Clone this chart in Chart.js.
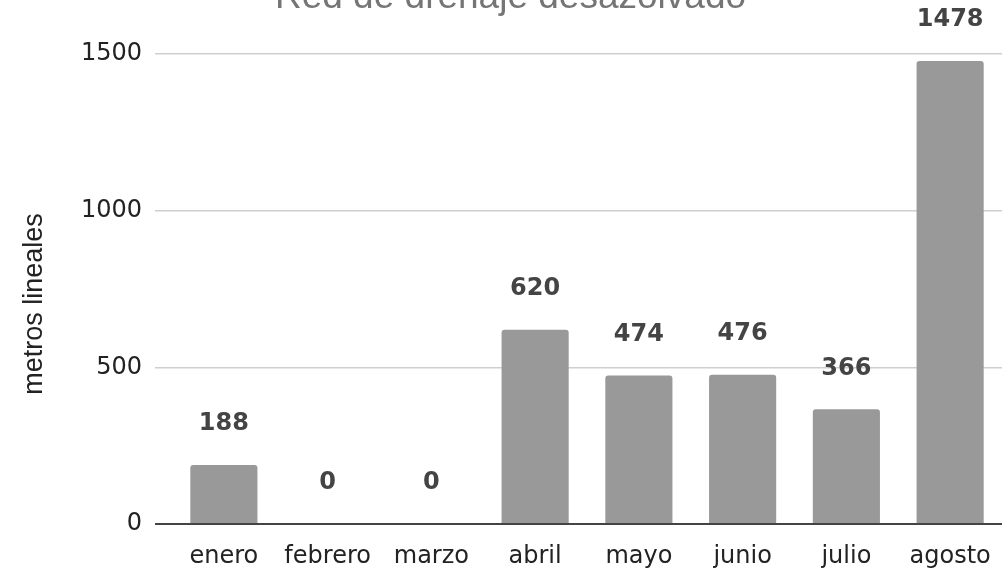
<!DOCTYPE html>
<html>
<head>
<meta charset="utf-8">
<script src="https://cdn.jsdelivr.net/npm/chart.js@4/dist/chart.umd.min.js"></script>
<style>
  html, body { margin: 0; padding: 0; background: #ffffff; }
  #c { display: block; }
</style>
</head>
<body>
<canvas id="c" width="1002" height="569"></canvas>
<script>
const categories = ['enero', 'febrero', 'marzo', 'abril', 'mayo', 'junio', 'julio', 'agosto'];
const metros = [188, 0, 0, 620, 474, 476, 366, 1478];
const yTicks = [0, 500, 1000, 1500];
const chartTitle = 'Red de drenaje desazolvado';
const yTitle = 'metros lineales';

const valueLabels = {
  id: 'valueLabels',
  afterDatasetsDraw(chart) {
    const ctx = chart.ctx;
    const meta = chart.getDatasetMeta(0);
    const base = chart.scales.y.getPixelForValue(0);
    ctx.save();
    ctx.font = 'bold 24px "DejaVu Sans"';
    ctx.fillStyle = '#444444';
    ctx.textAlign = 'center';
    ctx.textBaseline = 'middle';
    meta.data.forEach((bar, i) => {
      const top = Math.min(bar.y, base);
      ctx.fillText(String(metros[i]), bar.x, top - 41);
    });
    ctx.restore();
  }
};

new Chart(document.getElementById('c'), {
  type: 'bar',
  data: {
    labels: categories,
    datasets: [{
      data: metros,
      backgroundColor: '#999999',
      borderRadius: { topLeft: 3, topRight: 3, bottomLeft: 0, bottomRight: 0 },
      borderSkipped: 'bottom',
      barPercentage: 0.647,
      categoryPercentage: 1.0
    }]
  },
  options: {
    responsive: false,
    animation: false,
    events: [],
    layout: { padding: { left: 19, right: 0, top: 0, bottom: 0 } },
    plugins: {
      legend: { display: false },
      tooltip: { enabled: false },
      title: {
        display: true,
        text: chartTitle,
        color: '#757575',
        font: { family: '"Liberation Sans", Arial, sans-serif', size: 37, weight: 'normal' },
        padding: { top: -24, bottom: 33.6 }
      }
    },
    scales: {
      x: {
        type: 'category',
        grid: { display: false, drawTicks: false },
        border: { display: false },
        ticks: {
          color: '#222222',
          font: { family: '"DejaVu Sans"', size: 24 },
          padding: 18,
          autoSkip: false,
          maxRotation: 0
        },
        afterFit(scale) {
          scale.height = 45;
          scale.paddingLeft = 0;
          scale.paddingRight = 0;
        }
      },
      y: {
        min: 0,
        max: 1500,
        afterBuildTicks(scale) { scale.ticks = yTicks.map(v => ({ value: v })); },
        grid: {
          color: (c) => (c.tick && c.tick.value === 0) ? '#444444' : '#cfcfcf',
          lineWidth: (c) => (c.tick && c.tick.value === 0) ? 2 : 1.5,
          drawTicks: true,
          tickLength: 17
        },
        border: { display: false },
        ticks: {
          color: '#222222',
          font: { family: '"DejaVu Sans"', size: 24 },
          padding: 13,
          callback: (v) => String(v)
        },
        title: {
          display: true,
          text: yTitle + '    ',
          color: '#222222',
          font: { family: '"Liberation Sans", Arial, sans-serif', size: 27 },
          padding: { top: -1, bottom: 0 }
        },
        afterFit(scale) { scale.width = 153; }
      }
    }
  },
  plugins: [valueLabels]
});
</script>
</body>
</html>
